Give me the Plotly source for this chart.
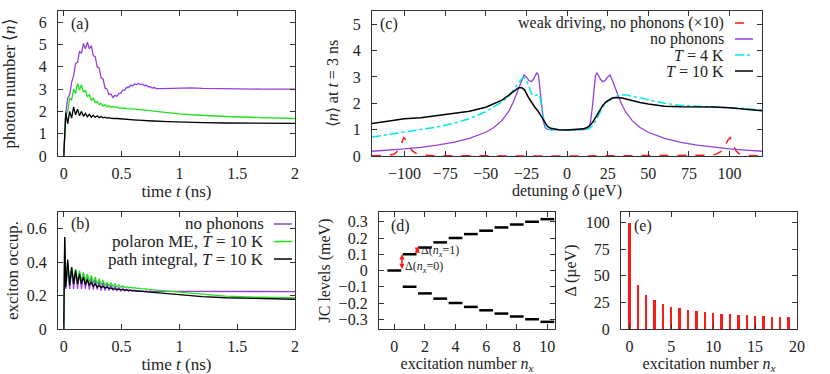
import plotly.graph_objects as go

# ---- panel (a) photon number and (b) exciton occupation vs time ----
t_a = [0, 0.017, 0.034, 0.051, 0.068, 0.085, 0.102, 0.119, 0.136, 0.153, 0.170, 0.187,
       0.204, 0.221, 0.238, 0.255, 0.272, 0.289, 0.306, 0.323, 0.340, 0.357, 0.374, 0.391,
       0.408, 0.425, 0.442, 0.459, 0.476, 0.493, 0.510, 0.527, 0.544, 0.561, 0.578, 0.595,
       0.612, 0.629, 0.646, 0.663, 0.680, 0.697, 0.714, 0.731, 0.748, 0.765, 0.782,
       0.8, 0.85, 0.9, 1.0, 1.1, 1.2, 1.4, 1.7, 2.0]
n_nophon = [0, 1.9, 2.6, 2.75, 3.3, 3.6, 4.15, 4.2, 4.7, 4.6, 5.05, 4.8,
            5.1, 4.8, 4.95, 4.5, 4.45, 4.0, 3.95, 3.5, 3.45, 3.05, 3.0, 2.75,
            2.78, 2.62, 2.72, 2.68, 2.8, 2.82, 2.95, 2.95, 3.08, 3.07, 3.17, 3.15,
            3.23, 3.2, 3.25, 3.2, 3.22, 3.16, 3.17, 3.1, 3.11, 3.05, 3.07,
            3.02, 3.02, 3.03, 3.06, 3.05, 3.03, 3.01, 3.0, 3.0]
n_polaron = [0, 1.8, 2.0, 2.6, 2.5, 3.0, 2.8, 3.25, 2.95, 3.2, 2.85, 2.95,
             2.65, 2.75, 2.5, 2.6, 2.4, 2.45, 2.3, 2.36, 2.24, 2.3, 2.2, 2.25,
             2.18, 2.22, 2.17, 2.2, 2.15, 2.17, 2.13, 2.15, 2.12, 2.13, 2.11, 2.11,
             2.1, 2.09, 2.08, 2.07, 2.06, 2.05, 2.04, 2.03, 2.02, 2.01, 2.0,
             1.99, 1.97, 1.94, 1.89, 1.85, 1.82, 1.77, 1.72, 1.68]
n_path = [0, 1.95, 1.45, 2.0, 1.7, 2.2, 1.85, 2.1, 1.8, 2.0, 1.78, 1.92,
          1.76, 1.87, 1.74, 1.83, 1.73, 1.8, 1.72, 1.77, 1.71, 1.74, 1.7, 1.72,
          1.69, 1.7, 1.68, 1.68, 1.67, 1.66, 1.66, 1.65, 1.64, 1.64, 1.63, 1.62,
          1.62, 1.61, 1.61, 1.6, 1.6, 1.59, 1.59, 1.58, 1.58, 1.57, 1.57,
          1.56, 1.55, 1.54, 1.52, 1.51, 1.5, 1.48, 1.47, 1.46]

t_b = [0, 0.008, 0.017, 0.034, 0.051, 0.068, 0.085, 0.102, 0.119, 0.136, 0.153, 0.170, 0.187,
       0.204, 0.221, 0.238, 0.255, 0.272, 0.289, 0.306, 0.323, 0.340, 0.357, 0.374, 0.391,
       0.408, 0.425, 0.442, 0.459, 0.476, 0.493, 0.510, 0.527, 0.544, 0.561, 0.578, 0.595,
       0.612, 0.629, 0.646, 0.663, 0.680, 0.697, 0.714, 0.731, 0.748, 0.765, 0.782,
       0.8, 0.85, 0.9, 1.0, 1.1, 1.2, 1.4, 1.7, 2.0]
x_nophon = [0, 0.55, 0.24, 0.37, 0.24, 0.36, 0.24, 0.35, 0.24, 0.34, 0.24, 0.33, 0.24,
            0.32, 0.235, 0.31, 0.235, 0.30, 0.235, 0.29, 0.23, 0.28, 0.23, 0.27, 0.23,
            0.262, 0.23, 0.255, 0.228, 0.25, 0.228, 0.245, 0.227, 0.24, 0.226, 0.236, 0.226,
            0.233, 0.225, 0.231, 0.225, 0.229, 0.224, 0.228, 0.224, 0.227, 0.224, 0.226,
            0.225, 0.225, 0.225, 0.225, 0.225, 0.224, 0.224, 0.224, 0.224]
x_polaron = [0, 0.5, 0.26, 0.40, 0.27, 0.37, 0.28, 0.36, 0.285, 0.35, 0.285, 0.34, 0.285,
             0.33, 0.28, 0.32, 0.275, 0.31, 0.27, 0.30, 0.265, 0.29, 0.26, 0.28, 0.258,
             0.275, 0.255, 0.27, 0.252, 0.263, 0.25, 0.258, 0.248, 0.253, 0.246, 0.25, 0.245,
             0.247, 0.243, 0.245, 0.241, 0.242, 0.239, 0.24, 0.237, 0.237, 0.235, 0.234,
             0.232, 0.229, 0.226, 0.218, 0.211, 0.205, 0.197, 0.19, 0.186]
x_path = [0, 0.55, 0.25, 0.415, 0.26, 0.37, 0.27, 0.35, 0.27, 0.33, 0.27, 0.31, 0.265,
          0.295, 0.26, 0.28, 0.255, 0.27, 0.25, 0.26, 0.248, 0.255, 0.245, 0.25, 0.243,
          0.245, 0.24, 0.24, 0.238, 0.237, 0.235, 0.234, 0.232, 0.231, 0.229, 0.228, 0.227,
          0.226, 0.225, 0.224, 0.223, 0.222, 0.221, 0.22, 0.219, 0.218, 0.217, 0.216,
          0.215, 0.212, 0.209, 0.203, 0.198, 0.194, 0.187, 0.181, 0.178]

# ---- panel (c) <n> at t = 3 ns vs detuning ----
det_np = [-120, -110, -100, -90, -80, -70, -60, -50, -45, -40, -36, -33, -30, -28, -26.5, -25,
          -23.5, -22, -20.5, -19.5, -18.5, -17.5, -16.5, -15.5, -14.5, -13.5, -12.5, -10, -5, 0,
          5, 10, 12.5, 13.5, 14.5, 15.5, 16.5, 17.5, 18.5, 19.5, 20.5, 22, 23.5, 25, 26.5, 28,
          30, 33, 36, 40, 45, 50, 60, 70, 80, 90, 100, 110, 120]
c_np = [0.18, 0.22, 0.27, 0.33, 0.41, 0.52, 0.67, 0.90, 1.08, 1.35, 1.68, 2.05, 2.50, 2.85, 3.07, 3.0,
        2.86, 2.82, 2.92, 3.05, 3.16, 3.05, 2.5, 1.8, 1.3, 1.08, 1.02, 1.0, 0.99, 0.98,
        0.99, 1.0, 1.02, 1.08, 1.3, 1.8, 2.5, 3.05, 3.16, 3.05, 2.92, 2.82, 2.86, 3.0, 3.07, 2.85,
        2.5, 2.05, 1.68, 1.35, 1.08, 0.9, 0.67, 0.52, 0.41, 0.33, 0.27, 0.22, 0.18]
det_4k = [-120, -110, -100, -90, -80, -70, -60, -50, -45, -40, -36, -33, -30, -28, -26.5, -25,
          -23.5, -22, -20.5, -19, -17.5, -16.5, -15.5, -14.5, -13.5, -12, -10, -5, 0, 5, 10, 12,
          13.5, 15, 16.5, 18, 20, 22, 24, 26, 28, 30, 33, 37, 40, 45, 50, 55, 60, 70, 80, 90,
          100, 110, 120]
c_4k = [0.72, 0.82, 0.9, 1.0, 1.1, 1.23, 1.42, 1.68, 1.85, 2.05, 2.25, 2.48, 2.75, 2.92, 2.98, 2.9,
        2.6, 2.38, 2.28, 2.3, 2.35, 2.2, 1.8, 1.4, 1.1, 1.02, 1.0, 0.99, 0.98, 0.99, 1.0, 1.01,
        1.04, 1.1, 1.2, 1.38, 1.62, 1.85, 2.02, 2.13, 2.2, 2.25, 2.33, 2.31, 2.27, 2.2, 2.12, 2.06,
        2.0, 1.92, 1.89, 1.87, 1.84, 1.8, 1.74]
det_10k = [-120, -110, -100, -90, -80, -70, -60, -50, -45, -40, -36, -33, -30, -28, -26, -24,
           -22, -20, -18, -16, -14, -12, -10, -5, 0, 5, 10, 12, 14, 16, 18, 20, 22, 24, 26, 28,
           30, 32, 34, 37, 40, 45, 50, 55, 60, 70, 80, 90, 100, 110, 120]
c_10k = [1.23, 1.33, 1.41, 1.45, 1.53, 1.6, 1.7, 1.85, 1.97, 2.12, 2.3, 2.45, 2.58, 2.6, 2.5, 2.25,
         2.05, 1.87, 1.72, 1.52, 1.3, 1.12, 1.05, 1.0, 0.99, 1.0, 1.03, 1.07, 1.15, 1.3, 1.5, 1.72,
         1.92, 2.05, 2.14, 2.2, 2.22, 2.22, 2.2, 2.15, 2.1, 2.03, 1.97, 1.92, 1.89, 1.87, 1.87,
         1.86, 1.83, 1.78, 1.72]
det_weak = [-120, -110, -106, -104, -102, -100.5, -99, -97, -95, -92, -88, -80, 0,
            80, 88, 92, 95, 97, 99, 100.5, 102, 104, 106, 110, 120]
c_weak = [0.01, 0.02, 0.08, 0.2, 0.45, 0.7, 0.6, 0.35, 0.18, 0.07, 0.03, 0.01, 0.0,
          0.01, 0.03, 0.07, 0.18, 0.35, 0.6, 0.7, 0.45, 0.2, 0.08, 0.02, 0.01]

# ---- panel (d) JC ladder, panel (e) gaps ----
nx_levels = [0, 1, 2, 3, 4, 5, 6, 7, 8, 9, 10]
jc_upper = [0, 0.1, 0.141, 0.173, 0.2, 0.224, 0.245, 0.265, 0.283, 0.3, 0.316]
jc_lower = [None, -0.1, -0.141, -0.173, -0.2, -0.224, -0.245, -0.265, -0.283, -0.3, -0.316]

nx_gap = list(range(20))
gap_uev = [100, 41, 31.7, 26.8, 23.4, 21.0, 19.4, 18.2, 16.9, 15.9,
           15.2, 14.5, 13.9, 13.3, 12.8, 12.4, 12.0, 11.7, 11.4, 11.1]

PURPLE = "#9440dc"
GREEN = "#22e022"
CYAN = "#00e8e8"
RED = "#ff1a1a"
FONT = "Liberation Serif"
FS = 16

W, H = 830, 374


def px(x):
    return x / W


def py(y):
    return 1 - y / H


fig = go.Figure()


def line(x, y, color, ax, width=1.3, dash="solid"):
    fig.add_trace(go.Scatter(x=x, y=y, mode="lines", xaxis="x" + ax, yaxis="y" + ax,
                             line=dict(color=color, width=width, dash=dash),
                             showlegend=False, hoverinfo="skip"))


# (a)
line(t_a, n_nophon, PURPLE, "")
line(t_a, n_polaron, GREEN, "")
line(t_a, n_path, "black", "")
# (c)
line(det_weak, c_weak, RED, "2", width=1.5, dash="dash")
line(det_np, c_np, PURPLE, "2")
line(det_4k, c_4k, CYAN, "2", width=1.5, dash="dashdot")
line(det_10k, c_10k, "black", "2", width=1.5)
# (b)
line(t_b, x_nophon, PURPLE, "3")
line(t_b, x_polaron, GREEN, "3")
line(t_b, x_path, "black", "3")

# (d) levels as short horizontal segments
seg_x, seg_y = [], []
for n, up, lo in zip(nx_levels, jc_upper, jc_lower):
    for e in (up, lo):
        if e is None:
            continue
        seg_x += [n - 0.45, n + 0.45, None]
        seg_y += [e, e, None]
line(seg_x, seg_y, "black", "4", width=2.5)

# (e) bars
fig.add_trace(go.Bar(x=nx_gap, y=gap_uev, xaxis="x5", yaxis="y5", width=0.28,
                     marker=dict(color=RED, line=dict(width=0)), showlegend=False,
                     hoverinfo="skip"))

axis_style = dict(showline=True, mirror="ticks", ticks="inside", ticklen=5, tickwidth=1,
                  linecolor="#333", linewidth=1.3, tickcolor="#333", showgrid=False,
                  zeroline=False, automargin=False,
                  tickfont=dict(size=FS, family=FONT, color="#222"),
                  title_font=dict(size=FS, family=FONT, color="#222"))
xstyle = dict(axis_style, ticklabelstandoff=3)
ystyle = dict(axis_style, ticklabelstandoff=7)
big_title = dict(size=17, family=FONT, color="#222")

dom_a = dict(x=[px(58), px(295)], y=[py(156), py(11)])
dom_c = dict(x=[px(372), px(762)], y=[py(156), py(11)])
dom_b = dict(x=[px(58), px(295)], y=[py(329), py(212)])
dom_d = dict(x=[px(379), px(555)], y=[py(329), py(212)])
dom_e = dict(x=[px(621), px(797)], y=[py(329), py(212)])

fig.update_layout(
    width=W, height=H, margin=dict(l=0, r=0, t=0, b=0),
    plot_bgcolor="white", paper_bgcolor="white", bargap=0,
    font=dict(family=FONT, size=FS, color="#222"),
    xaxis=dict(xstyle, domain=dom_a["x"], anchor="y", range=[-0.05, 2],
               tickvals=[0, 0.5, 1, 1.5, 2], ticktext=["0", "0.5", "1", "1.5", "2"],
               title=dict(text="time <i>t</i> (ns)", standoff=3, font=big_title)),
    yaxis=dict(ystyle, domain=dom_a["y"], anchor="x", range=[0, 6.5], dtick=1,
               title=dict(text="photon number ⟨<i>n</i>⟩", standoff=22, font=big_title)),
    xaxis2=dict(xstyle, domain=dom_c["x"], anchor="y2", range=[-120, 120], dtick=25,
                title=dict(text="detuning <i>δ</i> (µeV)", standoff=3)),
    yaxis2=dict(ystyle, domain=dom_c["y"], anchor="x2", range=[0, 5.5], dtick=1,
                title=dict(text="⟨<i>n</i>⟩ at <i>t</i> = 3 ns", standoff=10)),
    xaxis3=dict(xstyle, domain=dom_b["x"], anchor="y3", range=[-0.05, 2],
                tickvals=[0, 0.5, 1, 1.5, 2], ticktext=["0", "0.5", "1", "1.5", "2"],
                title=dict(text="time <i>t</i> (ns)", standoff=1, font=big_title)),
    yaxis3=dict(ystyle, domain=dom_b["y"], anchor="x3", range=[0, 0.7],
                tickvals=[0, 0.2, 0.4, 0.6], ticktext=["0", "0.2", "0.4", "0.6"],
                title=dict(text="exciton occup.", standoff=3, font=big_title)),
    xaxis4=dict(xstyle, domain=dom_d["x"], anchor="y4", range=[-1, 10.5], dtick=2,
                title=dict(text="excitation number <i>n</i><sub><i>x</i></sub>", standoff=1)),
    yaxis4=dict(ystyle, domain=dom_d["y"], anchor="x4", range=[-0.36, 0.36],
                tickvals=[-0.3, -0.2, -0.1, 0, 0.1, 0.2, 0.3],
                ticktext=["−0.3", "−0.2", "−0.1", "0", "0.1", "0.2", "0.3"],
                title=dict(text="JC levels (meV)", standoff=4)),
    xaxis5=dict(xstyle, domain=dom_e["x"], anchor="y5", range=[-1, 20], dtick=5,
                title=dict(text="excitation number <i>n</i><sub><i>x</i></sub>", standoff=1)),
    yaxis5=dict(ystyle, domain=dom_e["y"], anchor="x5", range=[0, 110], dtick=25,
                title=dict(text="Δ (µeV)", standoff=5)),
)

annotations = []
shapes = []


def label(text, x, y, size=FS, xanchor="left"):
    annotations.append(dict(text=text, x=px(x), y=py(y), xref="paper", yref="paper",
                            xanchor=xanchor, yanchor="middle", showarrow=False,
                            font=dict(size=size, family=FONT, color="#222")))


label("(a)", 69, 24)
label("(c)", 378, 24)
label("(b)", 69, 224)
label("(d)", 389, 226)
label("(e)", 632, 226)

# legend of (c): text right aligned, sample on the right
leg_c = [("weak driving, no phonons (×10)", RED, "dash", 1.5),
         ("no phonons", PURPLE, "solid", 1.5),
         ("<i>T</i> = 4 K", CYAN, "dashdot", 1.5),
         ("<i>T</i> = 10 K", "black", "solid", 1.5)]
for i, (txt, col, dash, wd) in enumerate(leg_c):
    yy = 23 + i * 16
    label(txt, 726, yy, xanchor="right")
    shapes.append(dict(type="line", xref="paper", yref="paper", x0=px(735), x1=px(753),
                       y0=py(yy), y1=py(yy), line=dict(color=col, width=wd, dash=dash)))

leg_b = [("no phonons", PURPLE), ("polaron ME, <i>T</i> = 10 K", GREEN),
         ("path integral, <i>T</i> = 10 K", "black")]
for i, (txt, col) in enumerate(leg_b):
    yy = 224 + i * 17.5
    label(txt, 266, yy, size=17, xanchor="right")
    shapes.append(dict(type="line", xref="paper", yref="paper", x0=px(274), x1=px(292),
                       y0=py(yy), y1=py(yy), line=dict(color=col, width=1.5)))

# (d) gap arrows and labels
for xa, y0, y1 in [(0.5, jc_upper[0], jc_upper[1]), (1.5, jc_upper[1], jc_upper[2])]:
    annotations.append(dict(x=xa, y=y1, ax=xa, ay=y0, xref="x4", yref="y4",
                            axref="x4", ayref="y4", text="", showarrow=True,
                            arrowside="end+start", arrowhead=2, arrowsize=0.7,
                            arrowwidth=1.5, arrowcolor=RED))
label("Δ(<i>n<sub>x</sub></i>=0)", 403, 267, size=12)
label("Δ(<i>n<sub>x</sub></i>=1)", 419, 251, size=12)

fig.update_layout(annotations=annotations, shapes=shapes)
fig.write_html("out.html", config={"displayModeBar": False},
               post_script="document.body.style.margin='0px';")
